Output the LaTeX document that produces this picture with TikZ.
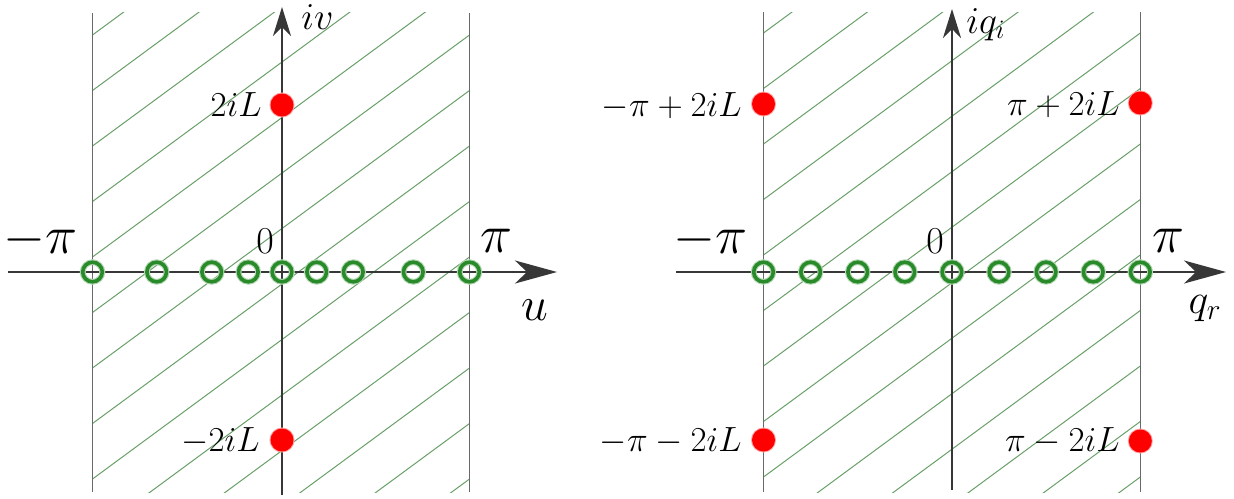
\RequirePackage{fix-cm}
\documentclass[tikz,border=0pt]{standalone}
\usetikzlibrary{arrows.meta}
\definecolor{hatchc}{RGB}{105,160,105}
\definecolor{ringc}{RGB}{40,138,40}
\definecolor{axisc}{RGB}{55,55,55}
\definecolor{boundc}{RGB}{105,105,105}
\definecolor{dotc}{RGB}{255,0,0}
\tikzset{
  axisline/.style={draw=axisc,line width=1pt},
  haxis/.style={axisline,-{Stealth[length=21pt,width=11.5pt,inset=6pt]}},
  vaxis/.style={axisline,-{Stealth[length=14.5pt,width=9pt,inset=4.5pt]}},
  boundary/.style={draw=boundc,line width=0.7pt},
  hatchline/.style={draw=hatchc,line width=0.5pt},
  zeroring/.style={circle,draw=ringc,line width=1.8pt,minimum size=9.8pt,inner sep=0pt,
     preaction={draw=ringc!35,line width=2.9pt}},
  poledot/.style={circle,fill=dotc,minimum size=11.5pt,inner sep=0pt,
     preaction={draw=dotc!35,line width=1pt}},
  lab/.style={font=\fontsize{17.5}{20}\selectfont,inner sep=0pt},
  biglab/.style={font=\fontsize{27}{30}\selectfont,inner sep=0pt},
  zerolab/.style={font=\fontsize{19}{22}\selectfont,inner sep=0pt},
  axlab/.style={font=\fontsize{21}{24}\selectfont,inner sep=0pt},
  toplab/.style={font=\fontsize{19}{22}\selectfont,inner sep=0pt},
  ulab/.style={font=\fontsize{24}{28}\selectfont,inner sep=0pt}
}
\begin{document}
\begin{tikzpicture}[x=0.5pt,y=-0.5pt]
\useasboundingbox (0,0) rectangle (1234,498);
% ---------- left panel ----------
\begin{scope}
  \clip (92.5,12) rectangle (469.5,492);
  \foreach \k in {-5,...,10}
    \draw[hatchline] (92.5,257+55.5*\k) -- ++(377,-277.5);
\end{scope}
\coordinate (LBlt) at (92.5,13);  \coordinate (LBlb) at (92.5,492);
\coordinate (LBrt) at (469.5,13); \coordinate (LBrb) at (469.5,492);
\draw[boundary] (LBlt) -- (LBlb);
\draw[boundary] (LBrt) -- (LBrb);
\coordinate (LHs) at (8,272);   \coordinate (LHe) at (557,272);
\coordinate (LVs) at (282,495); \coordinate (LVe) at (282,7);
\draw[haxis] (LHs) -- (LHe);
\draw[vaxis] (LVs) -- (LVe);
\foreach \x [count=\i] in {92.5,156.7,211.7,248.3,282,316.7,353.3,413.3,469.5}
  \node[zeroring] (Lz\i) at (\x,272) {};
\node[poledot] (Lp1) at (282,105) {};
\node[poledot] (Lp2) at (282,440) {};
\node[lab,anchor=base east] (Lt1) at (262,116) {$2iL$};
\node[lab,anchor=base east] (Lt2) at (260,451) {$-2iL$};
\node[biglab,anchor=base] (Lmpi) at (40,253) {$-\pi$};
\node[biglab,anchor=base] (Lpi) at (496,252) {$\pi$};
\node[zerolab,anchor=base] (L0) at (265,253) {$0$};
\node[ulab,anchor=base] (Lu) at (535,320) {$u$};
\node[toplab,anchor=base west] (Liv) at (301,29) {$iv$};
% ---------- right panel ----------
\begin{scope}
  \clip (763.5,12) rectangle (1140.3,492);
  \foreach \k in {-5,...,10}
    \draw[hatchline] (763.5,255+55.5*\k) -- ++(376.8,-277.5);
\end{scope}
\coordinate (RBlt) at (763.5,12);  \coordinate (RBlb) at (763.5,492);
\coordinate (RBrt) at (1140.3,12); \coordinate (RBrb) at (1140.3,492);
\draw[boundary] (RBlt) -- (RBlb);
\draw[boundary] (RBrt) -- (RBrb);
\coordinate (RHs) at (676,272);  \coordinate (RHe) at (1226,272);
\coordinate (RVs) at (952,490);  \coordinate (RVe) at (952,9);
\draw[haxis] (RHs) -- (RHe);
\draw[vaxis] (RVs) -- (RVe);
\foreach \i in {0,...,8}
  \node[zeroring] (Rz\i) at (763.5+47.1*\i,272) {};
\node[poledot] (Rp1) at (763.5,104) {};
\node[poledot] (Rp2) at (763.5,440) {};
\node[poledot] (Rp3) at (1140.3,103) {};
\node[poledot] (Rp4) at (1140.3,441) {};
\node[lab,anchor=base east] (Rt1) at (742,116) {$-\pi+2iL$};
\node[lab,anchor=base east] (Rt2) at (742,451) {$-\pi-2iL$};
\node[lab,anchor=base east] (Rt3) at (1120,115) {$\pi+2iL$};
\node[lab,anchor=base east] (Rt4) at (1120,451) {$\pi-2iL$};
\node[biglab,anchor=base] (Rmpi) at (710,253) {$-\pi$};
\node[biglab,anchor=base] (Rpi) at (1168,252) {$\pi$};
\node[zerolab,anchor=base] (R0) at (935,253) {$0$};
\node[axlab,anchor=base] (Rq) at (1205,313) {$q_r$};
\node[toplab,anchor=base west] (Riq) at (966,33) {$iq_i$};
\end{tikzpicture}
\end{document}
